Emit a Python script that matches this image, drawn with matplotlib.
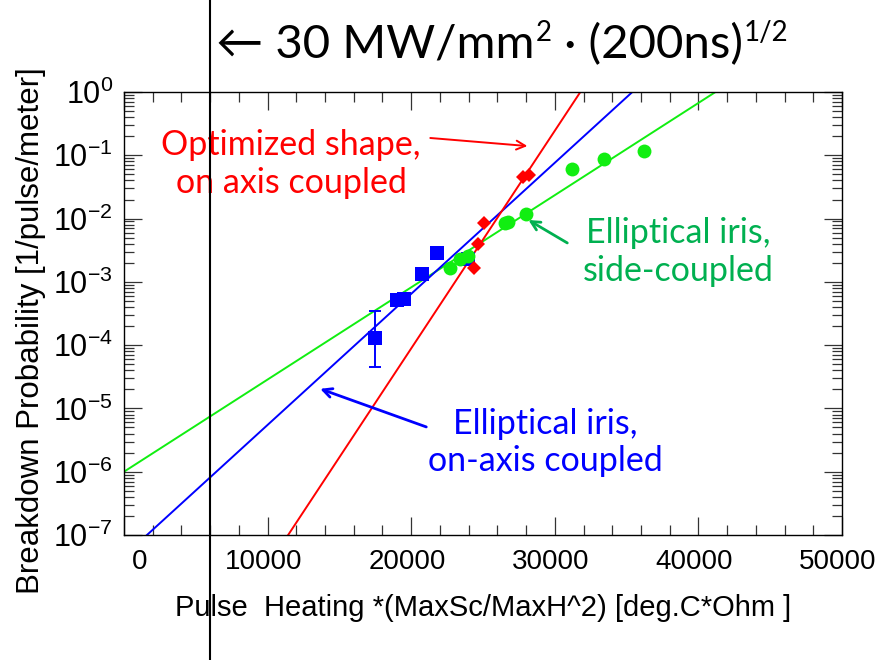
import matplotlib
matplotlib.use("Agg")
import matplotlib.pyplot as plt
from matplotlib import transforms
from matplotlib.ticker import MultipleLocator, LogLocator, NullFormatter, FixedLocator, FixedFormatter

plt.rcParams['font.family'] = ['Liberation Sans', 'DejaVu Sans']
plt.rcParams['mathtext.default'] = 'regular'
plt.rcParams['axes.unicode_minus'] = False

# measured points
blue_x = [17490, 19030, 19510, 20770, 21810, 23970]
blue_y = [1.3e-4, 5.2e-4, 5.4e-4, 1.33e-3, 2.88e-3, 2.3e-3]
blue_err_lo = [4.5e-5]
blue_err_hi = [3.5e-4]

red_x = [24390, 24670, 25090, 27810, 28220]
red_y = [1.66e-3, 4.0e-3, 8.5e-3, 4.5e-2, 4.9e-2]

green_x = [22720, 23420, 23970, 26550, 26750, 28020, 31220, 33450, 36240]
green_y = [1.66e-3, 2.3e-3, 2.6e-3, 8.4e-3, 8.9e-3, 1.18e-2, 6.1e-2, 8.8e-2, 0.117]

# fitted lines (end points)
green_fit_x = [0, 41190]
green_fit_y = [1e-6, 1.0]
blue_fit_x = [1600, 35400]
blue_fit_y = [1e-7, 1.0]
red_fit_x = [11430, 31780]
red_fit_y = [1e-7, 1.0]

limit_x = 6000

x_ticks = [0, 10000, 20000, 30000, 40000, 50000]
x_labels = ['0', '10000', '20000', '30000', '40000', '50000']
y_ticks = [1e-7, 1e-6, 1e-5, 1e-4, 1e-3, 1e-2, 1e-1, 1e0]
y_labels = [r'$10^{-7}$', r'$10^{-6}$', r'$10^{-5}$', r'$10^{-4}$',
            r'$10^{-3}$', r'$10^{-2}$', r'$10^{-1}$', r'$10^{0}$']

fig = plt.figure(figsize=(8.91, 6.6), dpi=100)
ax = fig.add_axes([124 / 891, 1 - 535 / 660, (842 - 124) / 891, (535 - 92) / 660])

GREEN = '#11ee11'
TGREEN = '#00b050'

ax.plot(green_fit_x, green_fit_y, color=GREEN, lw=1.4, zorder=2)
ax.plot(blue_fit_x, blue_fit_y, color='#0000ff', lw=1.4, zorder=2)
ax.plot(red_fit_x, red_fit_y, color='#ff0000', lw=1.4, zorder=2)

ax.errorbar(blue_x[:1], blue_y[:1],
            yerr=[[blue_y[0] - blue_err_lo[0]], [blue_err_hi[0] - blue_y[0]]],
            fmt='none', ecolor='#0000ff', elinewidth=1.4, capsize=4, capthick=1.4, zorder=3)
ax.plot(blue_x, blue_y, 's', color='#0000ff', ms=9.5, mew=0, zorder=3)
ax.plot(green_x, green_y, 'o', color=GREEN, ms=10, mew=0, zorder=4)
ax.plot(red_x, red_y, 'D', color='#ff0000', ms=7.5, mew=0, zorder=5)

ax.set_yscale('log')
ax.set_xlim(0, 50000)
ax.set_ylim(1e-7, 1)

ax.xaxis.set_major_locator(FixedLocator(x_ticks))
ax.xaxis.set_major_formatter(FixedFormatter(x_labels))
ax.xaxis.set_minor_locator(MultipleLocator(2000))
ax.yaxis.set_major_locator(FixedLocator(y_ticks))
ax.yaxis.set_major_formatter(FixedFormatter(y_labels))
ax.yaxis.set_minor_locator(LogLocator(base=10, subs=range(2, 10), numticks=20))
ax.yaxis.set_minor_formatter(NullFormatter())

ax.tick_params(which='both', direction='in', top=True, right=True, color='#333333', width=0.9)
ax.tick_params(which='major', length=13)
ax.tick_params(which='minor', length=7)
ax.tick_params(axis='x', labelsize=20, pad=10)
ax.tick_params(axis='y', labelsize=22, pad=8)
for s in ax.spines.values():
    s.set_linewidth(1.0)

# nudge the x tick labels like the original (0 sits inside, the rest a bit left)
for i, lab in enumerate(ax.get_xticklabels()):
    dx = 16 if i == 0 else -4
    lab.set_transform(lab.get_transform() +
                      transforms.ScaledTranslation(dx / 100, 0, fig.dpi_scale_trans))

ax.set_xlabel('Pulse  Heating *(MaxSc/MaxH^2) [deg.C*Ohm ]', fontsize=21, labelpad=14)
fig.text(31 / 891, 1 - 331 / 660, 'Breakdown Probability [1/pulse/meter]', rotation=90,
         fontsize=22.5, ha='center', va='center')

# vertical limit line across the whole figure
trans = transforms.blended_transform_factory(ax.transData, fig.transFigure)
ax.plot([limit_x, limit_x], [0, 1], transform=trans, color='black', lw=1.5,
        clip_on=False, zorder=6)

cal = ['Lato', 'DejaVu Sans']

# title with superscripts
t1 = fig.text(216 / 891, 1 - 58 / 660, '\u2190 30 MW/mm', fontsize=34, family=cal,
              ha='left', va='baseline')
t2 = ax.annotate('2', xy=(1, 0), xycoords=t1, xytext=(1, 20), textcoords='offset pixels',
                 fontsize=20, family=cal, ha='left', va='bottom', annotation_clip=False)
t3 = ax.annotate(' \u00b7 (200ns)', xy=(1, 0), xycoords=t2, xytext=(0, -20),
                 textcoords='offset pixels', fontsize=34, family=cal,
                 ha='left', va='bottom', annotation_clip=False)
ax.annotate('1/2', xy=(1, 0), xycoords=t3, xytext=(1, 20), textcoords='offset pixels',
            fontsize=20, family=cal, ha='left', va='bottom', annotation_clip=False)

# labels
ax.text(11640, 0.073, 'Optimized shape,\non axis coupled', fontsize=24.5, family=cal,
        color='#ff0000', ha='center', va='center', linespacing=1.2)
ax.text(38610, 2.97e-3, 'Elliptical iris,\nside-coupled', fontsize=24.5, family=cal,
        color=TGREEN, ha='center', va='center', linespacing=1.2)
ax.text(29340, 2.9e-6, 'Elliptical iris,\non-axis coupled', fontsize=24.5, family=cal,
        color='#0000ff', ha='center', va='center', linespacing=1.2)

# arrows
arrow_kw = dict(shrinkA=0, shrinkB=0, mutation_scale=16)
ax.annotate('', xy=(28090, 0.140), xytext=(21330, 0.1876),
            arrowprops=dict(arrowstyle='->', color='#ff0000', lw=1.4, **arrow_kw))
ax.annotate('', xy=(28160, 9.5e-3), xytext=(30870, 4.12e-3),
            arrowprops=dict(arrowstyle='->', color=TGREEN, lw=2.0, **arrow_kw))
ax.annotate('', xy=(13660, 2.04e-5), xytext=(21050, 5.1e-6),
            arrowprops=dict(arrowstyle='->', color='#0000ff', lw=2.0, **arrow_kw))

fig.savefig('out.png', dpi=100)
